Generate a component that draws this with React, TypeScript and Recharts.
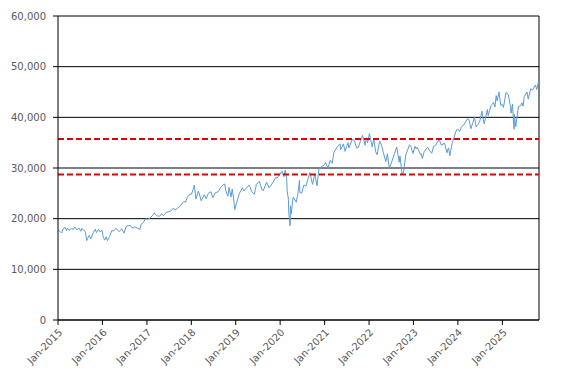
import React from 'react';
import { LineChart, Line, XAxis, YAxis, CartesianGrid, ReferenceLine } from 'recharts';

// index level
const dates = [
  '2015-01-02', '2015-01-16', '2015-01-30', '2015-02-13', '2015-03-02', '2015-03-11', '2015-03-20', '2015-04-01',
  '2015-04-24', '2015-05-06', '2015-05-19', '2015-06-09', '2015-06-23', '2015-07-08', '2015-07-17', '2015-07-31',
  '2015-08-14', '2015-08-25', '2015-09-01', '2015-09-16', '2015-09-28', '2015-10-15', '2015-11-03', '2015-11-13',
  '2015-12-01', '2015-12-14', '2015-12-29', '2016-01-08', '2016-01-20', '2016-02-01', '2016-02-11', '2016-02-29',
  '2016-03-18', '2016-04-05', '2016-04-20', '2016-05-19', '2016-06-08', '2016-06-27', '2016-07-15', '2016-08-15',
  '2016-09-09', '2016-09-22', '2016-10-14', '2016-11-04', '2016-11-15', '2016-12-01', '2016-12-20', '2017-01-03',
  '2017-01-25', '2017-02-15', '2017-03-01', '2017-03-27', '2017-04-13', '2017-05-01', '2017-05-17', '2017-06-09',
  '2017-06-30', '2017-07-21', '2017-08-07', '2017-08-18', '2017-09-12', '2017-10-02', '2017-10-31', '2017-11-15',
  '2017-11-30', '2017-12-18', '2018-01-02', '2018-01-16', '2018-01-26', '2018-02-08', '2018-02-27', '2018-03-08',
  '2018-03-23', '2018-04-18', '2018-05-03', '2018-05-21', '2018-06-11', '2018-06-27', '2018-07-17', '2018-08-10',
  '2018-08-29', '2018-09-21', '2018-10-03', '2018-10-10', '2018-10-29', '2018-11-07', '2018-11-23', '2018-12-03',
  '2018-12-14', '2018-12-24', '2019-01-03', '2019-01-31', '2019-02-25', '2019-03-08', '2019-04-23', '2019-05-13',
  '2019-06-03', '2019-06-20', '2019-07-15', '2019-08-05', '2019-08-14', '2019-09-12', '2019-10-02', '2019-10-31',
  '2019-11-27', '2019-12-06', '2019-12-27', '2020-01-17', '2020-01-31', '2020-02-12', '2020-02-24', '2020-02-28',
  '2020-03-09', '2020-03-12', '2020-03-16', '2020-03-23', '2020-03-26', '2020-04-01', '2020-04-17', '2020-05-13',
  '2020-05-29', '2020-06-08', '2020-06-11', '2020-06-26', '2020-07-14', '2020-07-31', '2020-08-17', '2020-09-02',
  '2020-09-23', '2020-10-12', '2020-10-30', '2020-11-16', '2020-12-04', '2020-12-31', '2021-01-08', '2021-01-29',
  '2021-02-16', '2021-03-04', '2021-03-17', '2021-04-16', '2021-05-07', '2021-05-12', '2021-06-04', '2021-06-18',
  '2021-07-12', '2021-07-19', '2021-08-16', '2021-09-02', '2021-09-20', '2021-10-04', '2021-10-29', '2021-11-08',
  '2021-11-30', '2021-12-10', '2021-12-20', '2022-01-04', '2022-01-27', '2022-02-09', '2022-02-24', '2022-03-08',
  '2022-03-29', '2022-04-14', '2022-04-29', '2022-05-19', '2022-06-01', '2022-06-16', '2022-07-08', '2022-07-29',
  '2022-08-16', '2022-09-06', '2022-09-12', '2022-09-30', '2022-10-12', '2022-10-31', '2022-11-15', '2022-11-30',
  '2022-12-13', '2022-12-28', '2023-01-13', '2023-01-25', '2023-02-01', '2023-02-28', '2023-03-07', '2023-03-15',
  '2023-03-31', '2023-04-28', '2023-05-10', '2023-05-31', '2023-06-16', '2023-06-30', '2023-07-20', '2023-08-01',
  '2023-08-18', '2023-09-14', '2023-10-03', '2023-10-16', '2023-10-27', '2023-11-14', '2023-11-30', '2023-12-13',
  '2023-12-29', '2024-01-17', '2024-01-31', '2024-02-20', '2024-03-21', '2024-04-01', '2024-04-17', '2024-05-17',
  '2024-05-30', '2024-06-14', '2024-06-28', '2024-07-17', '2024-07-25', '2024-08-05', '2024-08-30', '2024-09-06',
  '2024-09-30', '2024-10-21', '2024-11-01', '2024-11-11', '2024-11-19', '2024-12-04', '2024-12-19', '2024-12-31',
  '2025-01-10', '2025-01-30', '2025-02-18', '2025-03-10', '2025-03-13', '2025-03-25', '2025-04-04', '2025-04-08',
  '2025-04-09', '2025-04-21', '2025-05-13', '2025-05-30', '2025-06-11', '2025-06-20', '2025-06-30', '2025-07-23',
  '2025-08-01', '2025-08-22', '2025-09-05', '2025-09-30', '2025-10-10', '2025-10-29',
];

const values = [
  17833, 17511, 17165, 18019, 18288, 17635, 18128, 17698,
  18080, 17841, 18312, 17765, 18144, 17515, 18086, 17690,
  17477, 15666, 16058, 16739, 16001, 17141, 17918, 17245,
  17888, 17368, 17720, 16346, 15766, 16449, 15660, 16516,
  17602, 17603, 18096, 17435, 18005, 17140, 18516, 18636,
  18085, 18392, 18138, 17888, 18923, 19192, 19974, 19882,
  20068, 20611, 21115, 20550, 20453, 20913, 20606, 21271,
  21350, 21580, 22118, 21675, 22118, 22557, 23377, 23271,
  24272, 24792, 24824, 25800, 26616, 23860, 25410, 24895,
  23533, 24748, 23930, 25013, 25322, 24117, 25119, 25313,
  26124, 26743, 26828, 25599, 24443, 26180, 24286, 25827,
  24101, 21792, 22686, 24999, 26091, 25450, 26656, 25324,
  24820, 26753, 27359, 25718, 25479, 27182, 26079, 27046,
  28164, 28015, 28645, 29348, 28256, 29551, 27961, 25409,
  23851, 21200, 20188, 18592, 22552, 20943, 24242, 23247,
  25383, 27572, 25128, 25016, 26643, 26428, 27844, 29100,
  26763, 28838, 26502, 29950, 30218, 30606, 31098, 29983,
  31522, 30924, 33015, 34200, 34778, 33588, 34756, 33290,
  34997, 33962, 35625, 35443, 33970, 34002, 35820, 36432,
  34484, 35971, 34932, 36800, 34160, 35768, 33224, 32633,
  35294, 34451, 32977, 31253, 32813, 29927, 31338, 32845,
  34152, 31145, 32381, 28725, 29210, 32733, 33593, 34590,
  34108, 32875, 34302, 33744, 34092, 32657, 32856, 31875,
  33274, 34098, 33531, 32908, 34299, 34407, 35225, 35630,
  34500, 34908, 33002, 33984, 32418, 34828, 35950, 37090,
  37690, 37266, 38150, 38563, 39781, 39567, 37753, 40003,
  38111, 38589, 39119, 41198, 39935, 38703, 41563, 40345,
  42330, 42932, 42052, 44293, 43268, 45014, 42342, 42544,
  41938, 44882, 44556, 41912, 40813, 42587, 38315, 37645,
  40608, 38170, 42140, 42270, 42866, 42206, 44095, 44997,
  43589, 45631, 45401, 46398, 45480, 47400,
];

// the two red dashed levels
const levels = [35700, 28700];

const yTicks = [0, 10000, 20000, 30000, 40000, 50000, 60000];
const tickDates = [
  '2015-01-01', '2016-01-01', '2017-01-01', '2018-01-01', '2019-01-01', '2020-01-01',
  '2021-01-01', '2022-01-01', '2023-01-01', '2024-01-01', '2025-01-01',
];
const tickLabels = [
  'Jan-2015', 'Jan-2016', 'Jan-2017', 'Jan-2018', 'Jan-2019', 'Jan-2020',
  'Jan-2021', 'Jan-2022', 'Jan-2023', 'Jan-2024', 'Jan-2025',
];

const data = dates.map((d, i) => ({ t: Date.parse(d), value: values[i] }));
const xTicks = tickDates.map((d) => Date.parse(d));
const xMin = xTicks[0];
const xMax = data[data.length - 1].t;

const tickStyle = { fill: '#595959', fontSize: 10, fontFamily: 'DejaVu Sans' };

export default function App() {
  return (
    <div style={{ position: 'absolute', left: 0, top: 0, width: 567, height: 383, background: '#fff' }}>
      <LineChart width={567} height={383} data={data} margin={{ top: 16, right: 28, left: 0, bottom: 8 }}>
        <CartesianGrid horizontal vertical={false} stroke="#000" strokeOpacity={1} />
        <XAxis
          dataKey="t"
          type="number"
          scale="time"
          domain={[xMin, xMax]}
          ticks={xTicks}
          tickFormatter={(v) => tickLabels[xTicks.indexOf(v)] ?? ''}
          angle={-45}
          textAnchor="end"
          height={55}
          interval={0}
          tickSize={5}
          tickMargin={3}
          tick={tickStyle}
          stroke="#000"
          allowDataOverflow
        />
        <YAxis
          domain={[0, 60000]}
          ticks={yTicks}
          tickFormatter={(v) => v.toLocaleString('en-US')}
          width={58}
          tickSize={5}
          tickMargin={7}
          tick={tickStyle}
          stroke="#000"
        />
        <ReferenceLine x={xMax} stroke="#000" strokeWidth={1} />
        <Line
          type="linear"
          dataKey="value"
          stroke="#5B9BD5"
          strokeWidth={1}
          dot={false}
          isAnimationActive={false}
        />
        {levels.map((lv) => (
          <ReferenceLine key={lv} y={lv} stroke="#E00000" strokeWidth={2} strokeDasharray="6 3" />
        ))}
      </LineChart>
    </div>
  );
}
